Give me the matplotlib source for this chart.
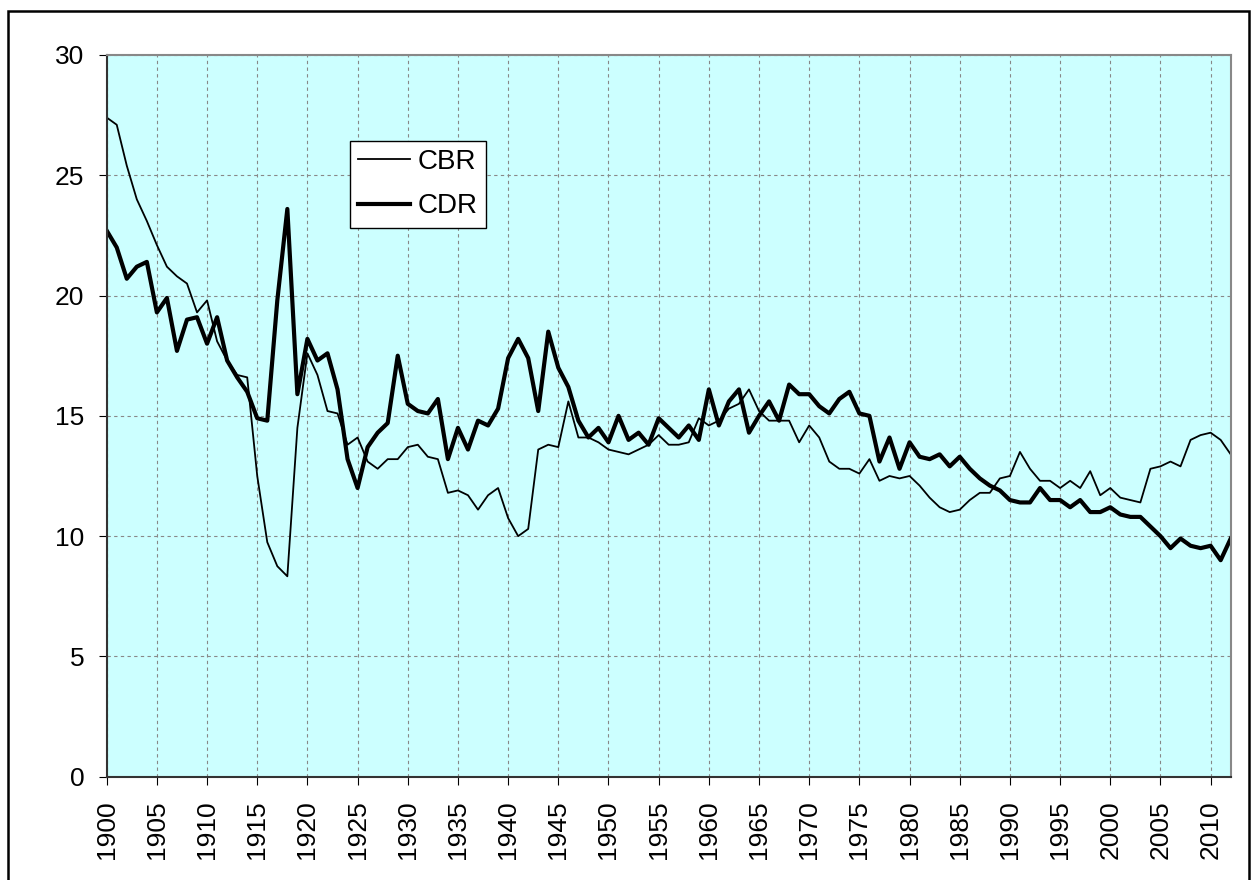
import matplotlib.pyplot as plt
from matplotlib.patches import Rectangle

plt.rcParams["font.family"] = ["Liberation Sans", "DejaVu Sans"]

# ===================== data =====================
years = list(range(1900, 2013))

cbr = [
    27.4, 27.1, 25.4, 24.0, 23.1, 22.1, 21.2, 20.8, 20.5, 19.3,   # 1900-1909
    19.8, 18.1, 17.3, 16.7, 16.6, 12.5, 9.75, 8.75, 8.33, 14.5,   # 1910-1919
    17.6, 16.7, 15.2, 15.1, 13.8, 14.1, 13.1, 12.8, 13.2, 13.2,   # 1920-1929
    13.7, 13.8, 13.3, 13.2, 11.8, 11.9, 11.7, 11.1, 11.7, 12.0,   # 1930-1939
    10.75, 10.0, 10.3, 13.6, 13.8, 13.7, 15.6, 14.1, 14.1, 13.9,  # 1940-1949
    13.6, 13.5, 13.4, 13.6, 13.8, 14.2, 13.8, 13.8, 13.9, 14.9,   # 1950-1959
    14.6, 14.8, 15.3, 15.5, 16.1, 15.2, 14.8, 14.8, 14.8, 13.9,   # 1960-1969
    14.6, 14.1, 13.1, 12.8, 12.8, 12.6, 13.2, 12.3, 12.5, 12.4,   # 1970-1979
    12.5, 12.1, 11.6, 11.2, 11.0, 11.1, 11.5, 11.8, 11.8, 12.4,   # 1980-1989
    12.5, 13.5, 12.8, 12.3, 12.3, 12.0, 12.3, 12.0, 12.7, 11.7,   # 1990-1999
    12.0, 11.6, 11.5, 11.4, 12.8, 12.9, 13.1, 12.9, 14.0, 14.2,   # 2000-2009
    14.3, 14.0, 13.4,                                             # 2010-2012
]

cdr = [
    22.7, 22.0, 20.7, 21.2, 21.4, 19.3, 19.9, 17.7, 19.0, 19.1,   # 1900-1909
    18.0, 19.1, 17.3, 16.6, 16.0, 14.9, 14.8, 19.8, 23.6, 15.9,   # 1910-1919
    18.2, 17.3, 17.6, 16.1, 13.2, 12.0, 13.7, 14.3, 14.7, 17.5,   # 1920-1929
    15.5, 15.2, 15.1, 15.7, 13.2, 14.5, 13.6, 14.8, 14.6, 15.3,   # 1930-1939
    17.4, 18.2, 17.4, 15.2, 18.5, 17.0, 16.2, 14.8, 14.1, 14.5,   # 1940-1949
    13.9, 15.0, 14.0, 14.3, 13.8, 14.9, 14.5, 14.1, 14.6, 14.0,   # 1950-1959
    16.1, 14.6, 15.6, 16.1, 14.3, 15.0, 15.6, 14.8, 16.3, 15.9,   # 1960-1969
    15.9, 15.4, 15.1, 15.7, 16.0, 15.1, 15.0, 13.1, 14.1, 12.8,   # 1970-1979
    13.9, 13.3, 13.2, 13.4, 12.9, 13.3, 12.8, 12.4, 12.1, 11.9,   # 1980-1989
    11.5, 11.4, 11.4, 12.0, 11.5, 11.5, 11.2, 11.5, 11.0, 11.0,   # 1990-1999
    11.2, 10.9, 10.8, 10.8, 10.4, 10.0, 9.5, 9.9, 9.6, 9.5,       # 2000-2009
    9.6, 9.0, 9.9,                                                # 2010-2012
]

x_ticks = list(range(1900, 2011, 5))
y_ticks = list(range(0, 31, 5))

# ===================== figure =====================
fig = plt.figure(figsize=(12.52, 8.8), dpi=100)
ax = fig.add_axes([106.7 / 1252, 1 - 776.7 / 880, 1124 / 1252, 721.7 / 880])
ax.set_facecolor("#CCFFFF")

ax.plot(years, cbr, color="black", lw=1.3, label="CBR")
ax.plot(years, cdr, color="black", lw=3.0, label="CDR")

ax.set_xlim(1900, 2012)
ax.set_ylim(0, 30)
ax.set_xticks(x_ticks)
ax.set_yticks(y_ticks)
ax.tick_params(axis="x", labelrotation=90, labelsize=19, length=6, pad=11)
ax.tick_params(axis="y", labelsize=19, length=6, pad=10)

ax.grid(True, color="#888888", linestyle=(0, (3, 3)), lw=0.8)

for side in ["top", "right"]:
    ax.spines[side].set_color("#888888")
    ax.spines[side].set_linewidth(1.5)
for side in ["left", "bottom"]:
    ax.spines[side].set_color("#333333")
    ax.spines[side].set_linewidth(1.5)

leg = ax.legend(loc="upper left", bbox_to_anchor=(0.2165, 0.881),
                borderaxespad=0, fontsize=20, fancybox=False,
                edgecolor="black", framealpha=1, handlelength=1.85,
                handletextpad=0.3, borderpad=0.3, labelspacing=0.65)
leg.get_frame().set_linewidth(1.0)

# outer frame around the chart
fig.patches.append(Rectangle((8 / 1252, -0.01), 1241 / 1252, 1.01 - 11 / 880,
                             transform=fig.transFigure, fill=False,
                             edgecolor="black", lw=1.8))

plt.savefig("out.png", dpi=100)
